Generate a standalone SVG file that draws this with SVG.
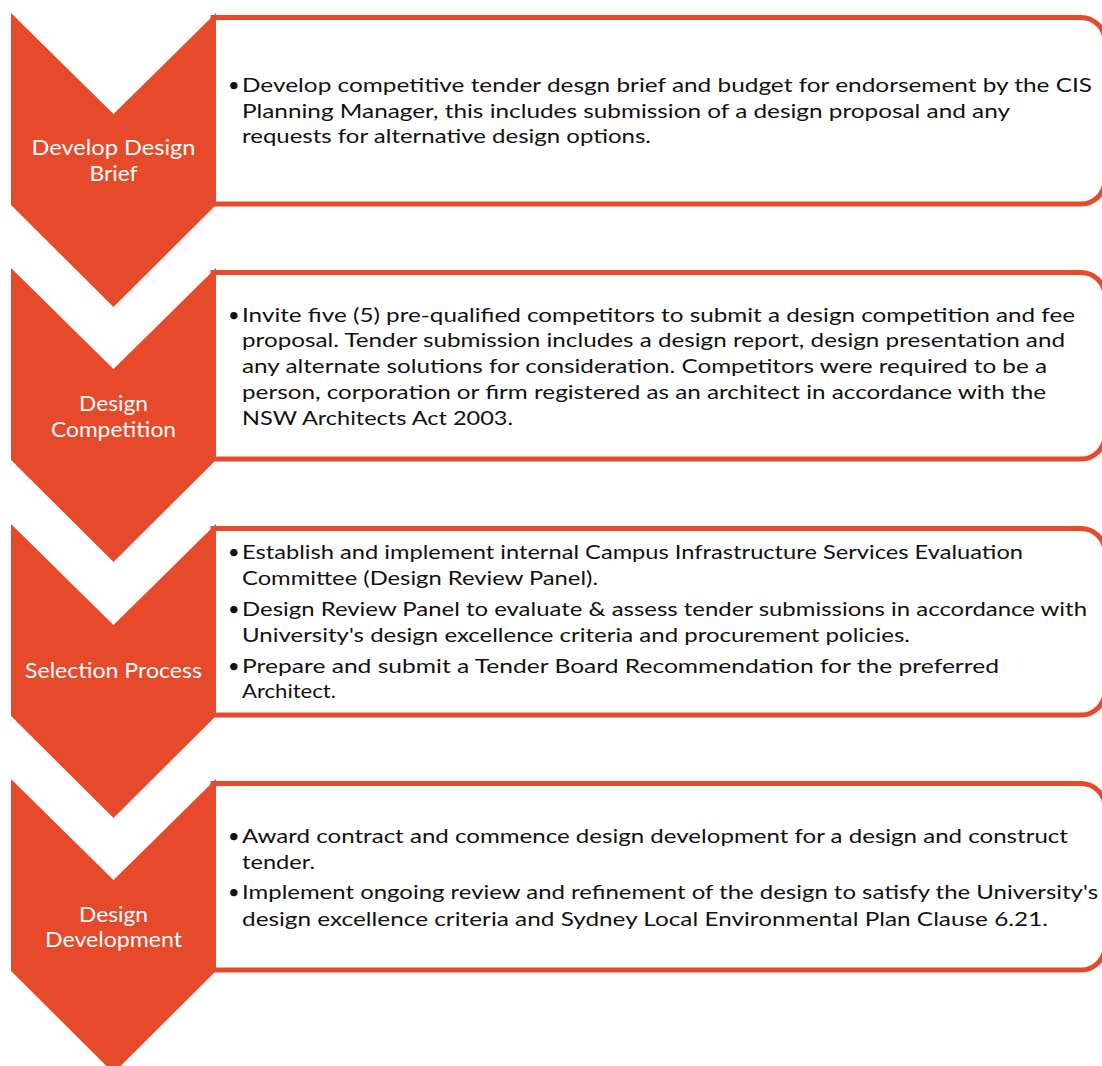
<svg xmlns="http://www.w3.org/2000/svg" width="1102" height="1066" viewBox="0 0 1102 1066">
<style>
.chev{fill:#E64A2A}
.box{fill:#FFFFFF;stroke:#E64A2A;stroke-width:5}
.lbl{font-family:Lato,"Liberation Sans",sans-serif;font-size:21px;fill:#FFFFFF;text-anchor:middle}
.body{font-family:Lato,"Liberation Sans",sans-serif;font-size:20px;fill:#111111}
</style>
<rect width="1102" height="1066" fill="#FFFFFF"/>
<g id="node1">
<path class="box" d="M213,17.5 H1081 A24,24 0 0 1 1105,41.5 V180 A24,24 0 0 1 1081,204 H213 Z"/>
<path class="chev" d="M11,13 L113.5,114 L216,13 L216,205 L113.5,307 L11,205 Z"/>
<text class="lbl" x="113.5" y="155" textLength="164" lengthAdjust="spacingAndGlyphs">Develop Design</text>
<text class="lbl" x="113.5" y="181" textLength="48" lengthAdjust="spacingAndGlyphs">Brief</text>
<text class="body" x="228" y="92">•</text>
<text class="body" x="242" y="92" textLength="850" lengthAdjust="spacingAndGlyphs">Develop competitive tender desgn brief and budget for endorsement by the CIS</text>
<text class="body" x="242" y="118" textLength="768" lengthAdjust="spacingAndGlyphs">Planning Manager, this includes submission of a design proposal and any</text>
<text class="body" x="242" y="143" textLength="409" lengthAdjust="spacingAndGlyphs">requests for alternative design options.</text>
</g>
<g id="node2">
<path class="box" d="M213,272.5 H1081 A24,24 0 0 1 1105,296.5 V435 A24,24 0 0 1 1081,459 H213 Z"/>
<path class="chev" d="M11,268 L113.5,369 L216,268 L216,460 L113.5,562 L11,460 Z"/>
<text class="lbl" x="113.5" y="411" textLength="69" lengthAdjust="spacingAndGlyphs">Design</text>
<text class="lbl" x="113.5" y="437" textLength="125" lengthAdjust="spacingAndGlyphs">Competition</text>
<text class="body" x="228" y="322">•</text>
<text class="body" x="242" y="322" textLength="833" lengthAdjust="spacingAndGlyphs">Invite five (5) pre-qualified competitors to submit a design competition and fee</text>
<text class="body" x="242" y="347" textLength="823" lengthAdjust="spacingAndGlyphs">proposal. Tender submission includes a design report, design presentation and</text>
<text class="body" x="242" y="373" textLength="805" lengthAdjust="spacingAndGlyphs">any alternate solutions for consideration. Competitors were required to be a</text>
<text class="body" x="242" y="399" textLength="804" lengthAdjust="spacingAndGlyphs">person, corporation or firm registered as an architect in accordance with the</text>
<text class="body" x="242" y="425" textLength="271" lengthAdjust="spacingAndGlyphs">NSW Architects Act 2003.</text>
</g>
<g id="node3">
<path class="box" d="M213,528.5 H1081 A24,24 0 0 1 1105,552.5 V691 A24,24 0 0 1 1081,715 H213 Z"/>
<path class="chev" d="M11,524 L113.5,625 L216,524 L216,716 L113.5,818 L11,716 Z"/>
<text class="lbl" x="113.5" y="678" textLength="177" lengthAdjust="spacingAndGlyphs">Selection Process</text>
<text class="body" x="228" y="559">•</text>
<text class="body" x="242" y="559" textLength="781" lengthAdjust="spacingAndGlyphs">Establish and implement internal Campus Infrastructure Services Evaluation</text>
<text class="body" x="242" y="585" textLength="356" lengthAdjust="spacingAndGlyphs">Committee (Design Review Panel).</text>
<text class="body" x="228" y="616">•</text>
<text class="body" x="242" y="616" textLength="845" lengthAdjust="spacingAndGlyphs">Design Review Panel to evaluate &amp; assess tender submissions in accordance with</text>
<text class="body" x="242" y="642" textLength="668" lengthAdjust="spacingAndGlyphs">University's design excellence criteria and procurement policies.</text>
<text class="body" x="228" y="673">•</text>
<text class="body" x="242" y="673" textLength="757" lengthAdjust="spacingAndGlyphs">Prepare and submit a Tender Board Recommendation for the preferred</text>
<text class="body" x="242" y="698" textLength="94" lengthAdjust="spacingAndGlyphs">Architect.</text>
</g>
<g id="node4">
<path class="box" d="M213,783.5 H1081 A24,24 0 0 1 1105,807.5 V946 A24,24 0 0 1 1081,970 H213 Z"/>
<path class="chev" d="M11,779 L113.5,880 L216,779 L216,971 L113.5,1073 L11,971 Z"/>
<text class="lbl" x="113.5" y="922" textLength="69" lengthAdjust="spacingAndGlyphs">Design</text>
<text class="lbl" x="113.5" y="947" textLength="137" lengthAdjust="spacingAndGlyphs">Development</text>
<text class="body" x="228" y="843">•</text>
<text class="body" x="242" y="843" textLength="826" lengthAdjust="spacingAndGlyphs">Award contract and commence design development for a design and construct</text>
<text class="body" x="242" y="869" textLength="73" lengthAdjust="spacingAndGlyphs">tender.</text>
<text class="body" x="228" y="899">•</text>
<text class="body" x="242" y="899" textLength="856" lengthAdjust="spacingAndGlyphs">Implement ongoing review and refinement of the design to satisfy the University's</text>
<text class="body" x="242" y="926" textLength="806" lengthAdjust="spacingAndGlyphs">design excellence criteria and Sydney Local Environmental Plan Clause 6.21.</text>
</g>
</svg>
